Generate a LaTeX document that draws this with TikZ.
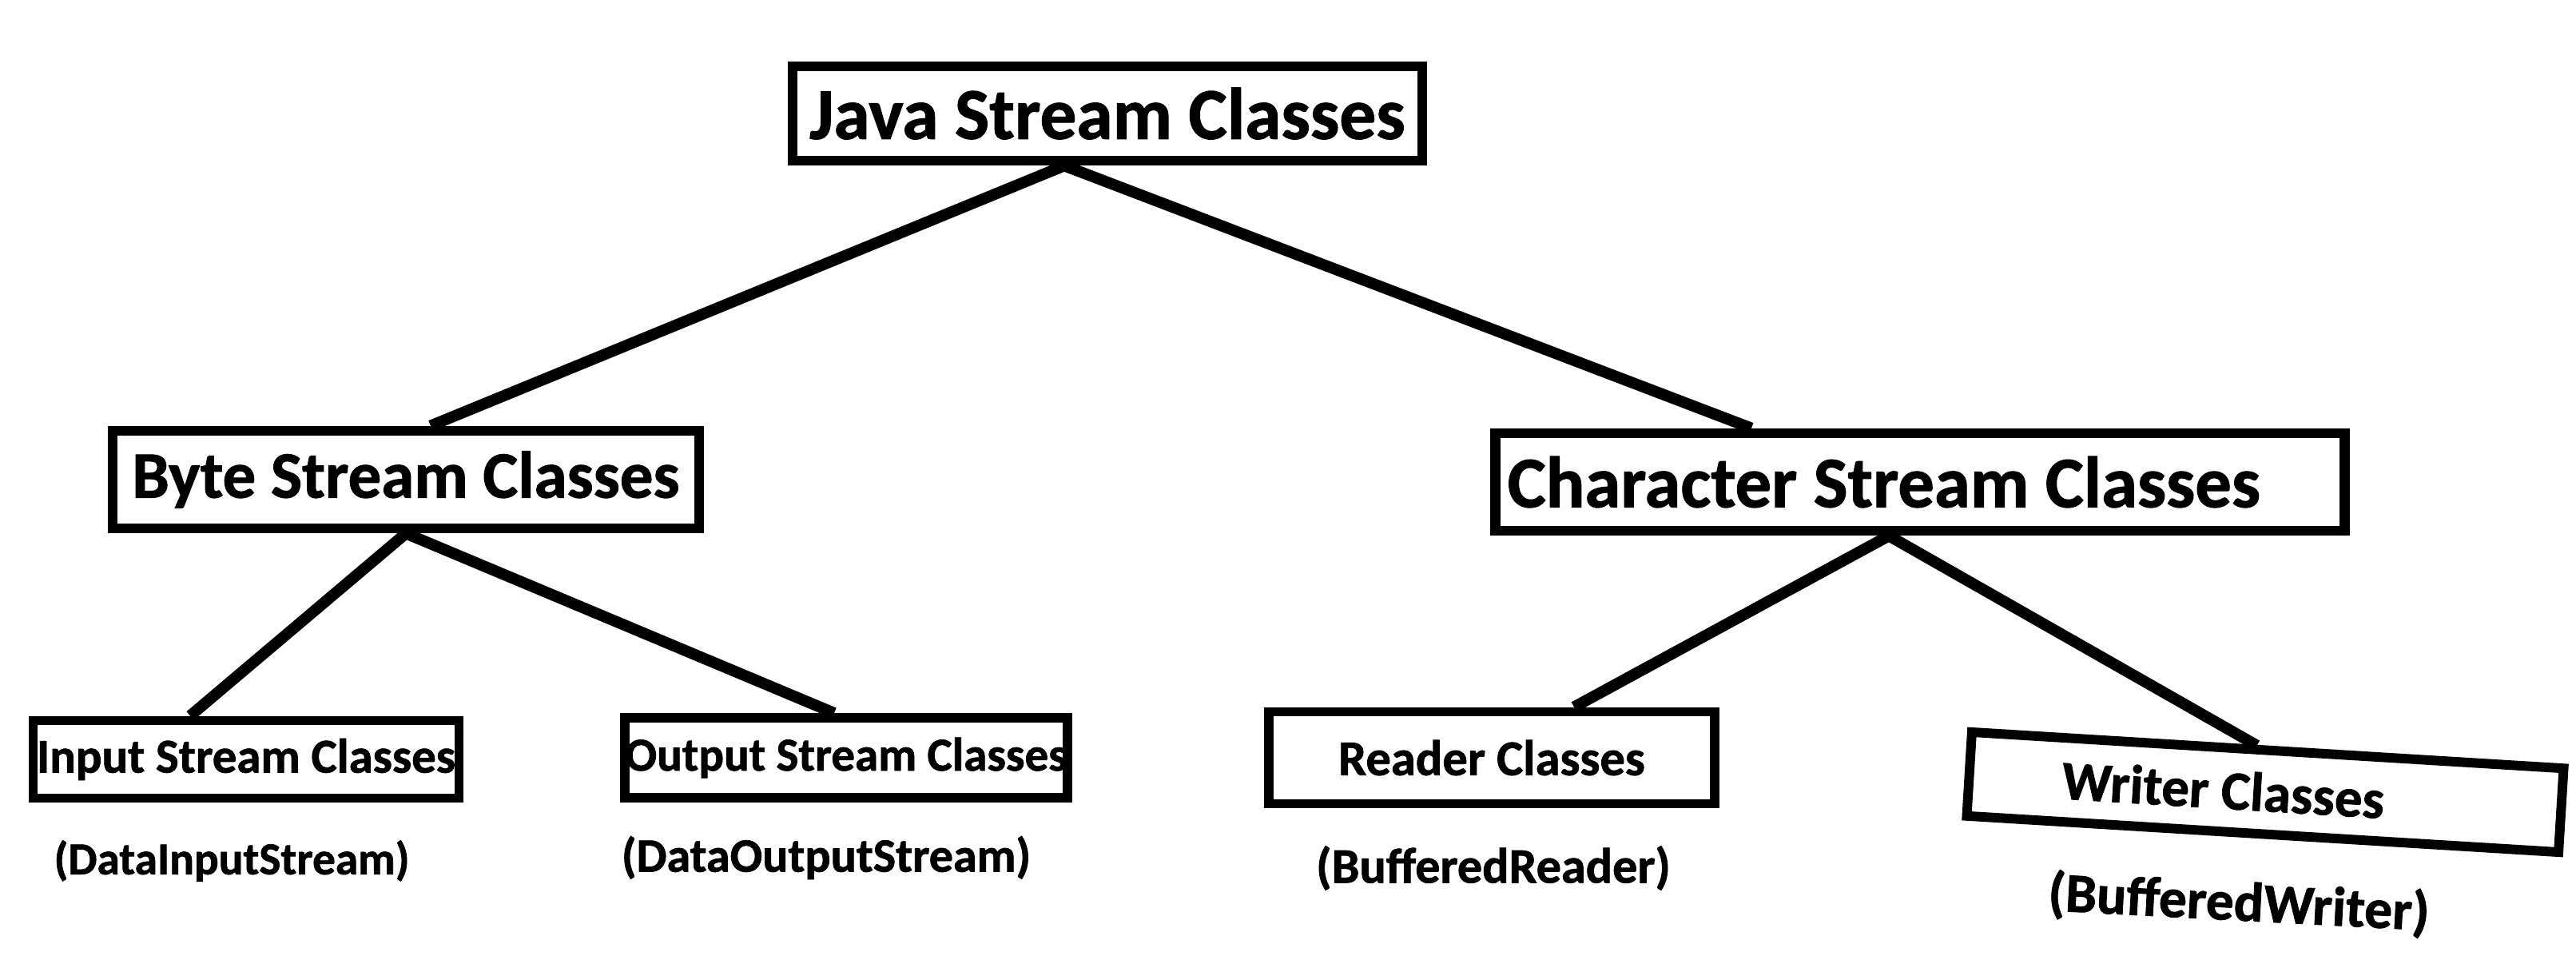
\documentclass[tikz,border=0pt]{standalone}
\usepackage{fontspec}
\setmainfont{Carlito}[BoldFeatures={FakeBold=1.2}]
\usepackage{tikz}
\usetikzlibrary{positioning}
\newcommand{\fsz}[1]{\fontsize{#1}{#1}\selectfont}
\tikzstyle{rootclass} = [rectangle, draw=black, line width=3.6pt, inner sep=0pt, text centered, font=\bfseries]
\tikzstyle{streamclass} = [rectangle, draw=black, line width=3.6pt, inner sep=0pt, text centered, font=\bfseries]
\tikzstyle{subclass} = [rectangle, draw=black, line width=3.4pt, inner sep=0pt, text centered, font=\bfseries]
\tikzstyle{example} = [inner sep=0pt, text centered, font=\bfseries]
\tikzstyle{branch} = [line width=4pt]

\begin{document}
\begin{tikzpicture}[node distance=3.5cm]
			\useasboundingbox (0,0) rectangle (32.24,-12.01);

			\node (root) [rootclass, minimum width=7.88cm, minimum height=1.18cm, font=\bfseries\fsz{26}] at (13.86,-1.42) {Java Stream Classes};
			\node (byte) [streamclass, minimum width=7.34cm, minimum height=1.22cm, font=\bfseries\fsz{23.6}, below of=root, xshift=-8.78cm, yshift=-1.08cm] {Byte Stream Classes};
			\node (char) [streamclass, minimum width=10.63cm, minimum height=1.22cm, font=\bfseries\fsz{25.8}, below of=root, xshift=10.17cm, yshift=-1.11cm] {Character Stream Classes\hspace*{0.9cm}};
			\node (input) [subclass, minimum width=5.33cm, minimum height=0.97cm, font=\bfseries\fsz{17.3}, below of=byte, xshift=-2cm] {Input Stream Classes};
			\node (output) [subclass, minimum width=5.54cm, minimum height=1cm, font=\bfseries\fsz{16.8}, below of=byte, xshift=5.51cm, yshift=0.02cm] {Output Stream Classes};
			\node (reader) [subclass, minimum width=5.58cm, minimum height=1.15cm, font=\bfseries\fsz{17.8}, below of=char, xshift=-5.36cm, yshift=0.05cm] {Reader Classes};
			\node (writer) [subclass, minimum width=7.42cm, minimum height=1.05cm, font=\bfseries\fsz{19.6}, below of=char, xshift=4.32cm, yshift=-0.38cm, rotate=-3.5] {Writer Classes\hspace*{1.05cm}};

			\node (datain) [example, font=\bfseries\fsz{16.3}, below of=input, node distance=1.27cm, xshift=-0.18cm] {(DataInputStream)};
			\node (dataout) [example, font=\bfseries\fsz{17.1}, below of=output, node distance=1.25cm, xshift=-0.25cm] {(DataOutputStream)};
			\node (bufreader) [example, font=\bfseries\fsz{17.7}, below of=reader, node distance=1.38cm, xshift=0.02cm] {(BufferedReader)};
			\node (bufwriter) [example, font=\bfseries\fsz{19.8}, below of=writer, node distance=1.4cm, xshift=-0.33cm, rotate=-3] {(BufferedWriter)};

			\draw [branch] ([xshift=-5.4mm]root.south) -- ([xshift=3.1mm]byte.north);
			\draw [branch] ([xshift=-5.4mm]root.south) -- ([xshift=-21.1mm]char.north);
			\draw [branch] (byte.south) -- ([xshift=-7mm]input.north);
			\draw [branch] (byte.south) -- ([xshift=-1.5mm]output.north);
			\draw [branch] ([xshift=-3.9mm]char.south) -- ([xshift=10.3mm]reader.north);
			\draw [branch] ([xshift=-3.9mm]char.south) -- ([xshift=-1.4mm]writer.north);

		\end{tikzpicture}
\end{document}
